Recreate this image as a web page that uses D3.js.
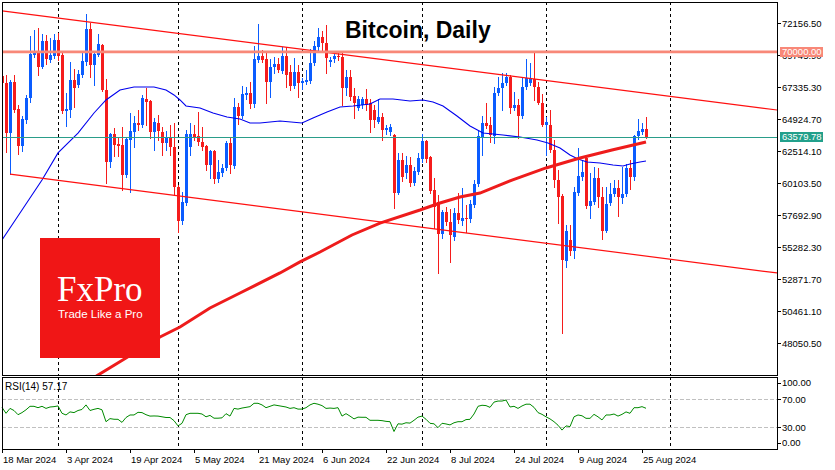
<!DOCTYPE html>
<html>
<head>
<meta charset="utf-8">
<title>Bitcoin, Daily</title>
<script src="https://cdn.jsdelivr.net/npm/d3@7"></script>
<style>
	body { margin: 0; background: #fff; }
	svg { display: block; font-family: "Liberation Sans", Arial, sans-serif; }
</style>
</head>
<body>
<script>

	// ---- data (daily BTC candles from 18 Mar 2024) ----
	var startDay = "2024-03-18";

	var openP = [68190,67660,63890,67740,65700,62910,64870,66530,69770,69920,
		68860,70820,69390,69690,70900,69770,65550,65630,67890,67510,
		68260,69240,71730,69020,69770,70520,67130,61710,63820,63060,
		62990,60730,63370,63970,64650,64500,66450,66300,63970,64650,
		63970,63140,63580,62840,59830,57260,58620,62840,63820,63670,
		63220,62910,61480,62540,60430,60880,61260,63140,61410,65850,
		65170,66760,66910,66080,69390,69690,69470,67740,68860,69090,
		68560,69690,68490,67430,68490,67660,67740,67810,69170,70370,
		71120,70670,69240,69470,69690,69620,67280,68110,66680,65780,
		66000,66450,66150,65630,64720,65100,64120,63970,63740,59370,
		61860,60880,61480,60130,60960,61930,63290,62080,59600,58700,
		56280,57940,57190,56060,57870,57260,57490,57410,58470,60050,
		63580,64650,64500,63670,66910,67280,67660,68110,65780,66000,
		65170,67360,67660,67960,67360,66150,64500,64500,62610,60350,
		59150,54250,55830,55000,59370,60580,62010,58390,58700,60500,
		59070,56510,58620,59300,59750,59000,59300,61260,60580,63670,
		63970,64190];

	var highP = [68410,68260,67890,68260,66000,65170,66760,71200,71650,71800,
		71350,71280,71050,71350,71430,69920,66910,69240,68710,68640,
		69920,72860,72180,70070,71350,70600,67960,63890,64270,63520,
		64340,63580,65400,65170,65630,66760,67280,66380,65020,65250,
		64340,64040,64500,64650,59980,59450,64120,64650,64500,65480,
		64340,62990,62610,62610,61860,61560,63290,63520,66530,66150,
		67430,67360,67740,70450,72100,70150,70070,69470,69620,69540,
		70370,70370,69020,69540,69020,68040,68640,70220,70820,71800,
		71580,72030,69620,69920,69920,69920,68640,68640,67280,66680,
		66600,67210,66450,66000,66450,65400,64500,64570,63820,62390,
		62390,62160,62080,61330,62390,63820,63370,62160,60500,59220,
		58090,58320,58170,58240,59370,59750,58470,58850,60350,64040,
		65170,66150,65100,67360,68110,68410,68410,68260,66980,66450,
		68110,69470,69170,70000,67740,66830,65100,65630,63370,61110,
		59300,56960,56960,59830,62760,61860,62160,60880,61330,61260,
		59830,59830,60130,60350,60350,61330,61560,61860,63740,64950,
		64650,65100];

	var lowP = [67430,62460,60800,65480,62310,62540,64650,66230,69620,68260,
		68790,69090,69240,69540,69390,65400,64420,65100,65850,67360,
		68110,69020,68110,67510,69690,67060,60130,61330,62160,62160,
		59600,60580,59450,62840,64120,64340,64500,63520,62610,63370,
		62240,62610,62240,59220,56440,57040,58470,62240,63370,62990,
		62610,61110,60500,60130,60200,60650,61110,60880,61260,64570,
		65020,66450,65780,65850,69240,69240,66150,66600,68410,68490,
		68410,67360,67130,67280,66600,67210,67580,67660,69020,70150,
		70000,68410,68940,69240,69390,66000,66760,66380,65020,65630,
		65780,65630,63970,64340,64650,63370,63820,63740,58240,59300,
		60280,60500,59900,59980,60800,61710,61710,59370,56740,53350,
		55980,56960,54180,55830,57110,56960,56440,57190,58320,59900,
		62240,64270,63220,63140,66760,65630,67510,65400,65630,63520,
		65020,67210,67510,66380,66080,64420,62240,62460,59830,57110,
		48830,53800,54700,54480,59220,60350,58240,57490,58540,58320,
		55910,56440,58470,59150,57640,58620,59150,59670,60350,63440,
		63820,63520];

	var closeP = [67660,63890,67740,65630,62910,64950,66530,69840,69920,68860,
		70820,69470,69770,70900,69690,65550,65700,67890,67280,68340,
		69320,71730,69020,69840,70600,67130,61710,63820,62990,62910,
		60730,63440,64040,64650,64500,66530,66230,63970,64720,64040,
		63140,63580,62840,59830,57260,58700,63820,63820,63580,63220,
		62840,61480,62540,60430,60960,61260,63140,61480,65850,65170,
		66830,66910,66080,69470,69690,69390,67740,68860,69090,68640,
		69690,68260,67430,68490,67660,67810,67890,69170,70450,71120,
		70670,69540,69390,69690,69620,67280,68110,66600,66150,66450,
		66450,66000,64870,64870,65100,64120,64270,64340,59370,61860,
		60580,61480,60130,61030,62010,63290,61930,59520,58320,56280,
		57940,57190,56210,57870,57340,57490,57410,58540,60050,63670,
		64650,64420,63740,66910,67280,67660,68110,65780,66000,65170,
		67360,68040,68040,67360,66150,64500,64720,62610,60350,59070,
		54330,56510,55000,59450,60650,60960,58390,58770,60500,59070,
		56510,58540,59300,59750,59070,59300,61260,60580,63670,64040,
		64190,63579.78];

	// RSI(14), one value per candle
	var rsiVals = [58.5,50,57,54,48,51,55,60,60,58,
		60,57,59,59.5,60.5,50,47.6,52,51,54,
		55.5,62,54,55.7,57,55,38,42.4,41.5,41.4,
		37,44,47.6,47.6,51.4,51,48,46,46.2,46,
		45,44,44,39.5,32,35.7,48,50,50,50,
		49,45,47,43,43,43.5,49.5,46,57,56,
		57.5,58.5,59.5,64.3,64.3,62,58,60,62,61,
		60,59,57,58,56,56,58,62,64.3,63,
		61,57,57.5,57,58,46,49.5,46,42,44.5,
		44.3,44.3,40,40,40,39.5,38.5,38,24,35,
		34.5,36.5,36,40,44.5,46,41.5,35.7,35,29.5,
		35.7,34.8,33.4,36.5,38,38,41,41.4,49,60,
		61.5,61,58.5,66,67.5,67.5,69,59,60,57,
		60.5,63,63,58.5,51,48.5,45,42,38,33,
		26,32,31,45,47.6,46.5,42.8,42.8,48.5,45,
		40.5,47.6,47.6,49,46,48.5,52,50,58,58,
		59.5,57.17];

	// moving averages read at day offsets (day 0 = 18 Mar)
	var ma50Day = [0,5,10,14,19,23,26,29.5,33,38,41,43,44.5,46,49.5,52.75,56.25,59.5,62,64.5,
		67,69.5,75,77.75,81.25,84.5,87.75,92,94.5,97.75,102,105.25,107.75,110.25,113.75,117,
		120.25,125.25,129.5,133.75,136.5,139.5,142,144,146.25,149.5,152.75,155.25,157,159.5,161];
	var ma50Val = [55830,58090,60350,62390,63890,65400,66380,67130,67360,67360,67130,66760,66380,65930,65780,65400,65100,64950,64650,64650,
		64720,64800,64650,65020,65480,65850,65930,66080,66450,66450,66300,66380,66230,65930,65170,64420,
		63890,63740,63590,63370,63140,62760,62240,61930,61710,61630,61480,61410,61560,61710,61780];

	var ma200Day = [18,24,31,39.5,44.5,52,59.5,69.5,74.5,79.5,87.5,94.5,104.5,109.5,114.5,119.5,127.5,136,144.5,152.5,161];
	var ma200Val = [44530,45660,46940,48530,49280,50710,51840,53350,54180,54930,56210,57110,58090,58620,59070,59370,60350,61260,62010,62610,63220];

	// channel trend lines (day, price) and horizontal levels
	var upperDay = [0, 194], upperVal = [73093, 65616];
	var lowerDay = [2, 194], lowerVal = [60800, 53340];
	var resistLevel = 70000;
	var lastPrice = 63579.78;

	var priceTicks = [72156.50, 69745.90, 67335.30, 64924.70, 62514.10, 60103.50, 57692.90, 55282.30, 52871.70, 50461.10, 48050.50];
	var rsiTicks = [100, 70, 30, 0];
	var rsiLevels = [70, 30];
	var dateTickDay = [0, 16, 32, 48, 64, 80, 96, 112, 128, 144, 160];

	// ---- layout ----
	var Settings = {
		width : 835,
		height : 470,
		left : 2, right : 777,
		top : 2, bottom : 375.5,
		rsiTop : 377, rsiBottom : 449,
		bull : "#0a5cff",
		bear : "#f51c1c",
		font : "\"Liberation Sans\", Arial, sans-serif"
	};

	var days = 194;
	var start = new Date(startDay + "T00:00:00Z");
	var dates = d3.range(days).map(function (i) { return d3.utcDay.offset(start, i); });
	var fmtDate = d3.utcFormat("%-d %b %Y");
	var fmtPrice = d3.format(".2f");

	var x = d3.scaleLinear().domain([0, 193.75]).range([Settings.left, Settings.right]);
	var y = d3.scaleLinear().domain([45626, 73761]).range([Settings.bottom, Settings.top]);
	var yRsi = d3.scaleLinear().domain([0, 100]).range([448.3, 378.3]);

	var svg = d3.select("body").append("svg")
		.attr("width", Settings.width)
		.attr("height", Settings.height);

	svg.append("defs").append("clipPath").attr("id", "mainClip")
		.append("rect")
		.attr("x", Settings.left).attr("y", Settings.top)
		.attr("width", Settings.right - Settings.left)
		.attr("height", Settings.bottom - Settings.top);

	// monthly dashed grid in both panels
	var monthDays = d3.range(days).filter(function (i) { return dates[i].getUTCDate() === 1; });
	var grid = svg.append("g")
		.attr("stroke", "#000")
		.attr("stroke-width", 1)
		.attr("stroke-dasharray", "3,3")
		.attr("shape-rendering", "crispEdges");
	monthDays.forEach(function (d) {
		var gx = Math.round(x(d)) + 0.5;
		grid.append("line").attr("x1", gx).attr("x2", gx)
			.attr("y1", Settings.top).attr("y2", Settings.bottom);
		grid.append("line").attr("x1", gx).attr("x2", gx)
			.attr("y1", Settings.rsiTop).attr("y2", Settings.rsiBottom);
	});

	var main = svg.append("g").attr("clip-path", "url(#mainClip)");

	// candles
	var candles = main.append("g").attr("shape-rendering", "crispEdges");
	closeP.forEach(function (c, i) {
		var o = openP[i];
		var col = c > o ? Settings.bull : Settings.bear;
		var cx = Math.round(x(i));
		candles.append("line")
			.attr("x1", cx + 0.5).attr("x2", cx + 0.5)
			.attr("y1", Math.round(y(highP[i]))).attr("y2", Math.round(y(lowP[i])) + 1)
			.attr("stroke", col);
		var top = Math.round(y(Math.max(o, c)));
		var bot = Math.round(y(Math.min(o, c)));
		candles.append("rect")
			.attr("x", cx - 1).attr("y", top)
			.attr("width", 3).attr("height", Math.max(1, bot - top))
			.attr("fill", col);
	});

	// moving averages
	var maLine = d3.line()
		.x(function (d) { return x(d[0]); })
		.y(function (d) { return y(d[1]); });

	main.append("path")
		.attr("d", maLine(d3.zip(ma50Day, ma50Val)))
		.attr("fill", "none").attr("stroke", "#0000ee").attr("stroke-width", 1.1);

	main.append("path")
		.attr("d", maLine(d3.zip(ma200Day, ma200Val)))
		.attr("fill", "none").attr("stroke", "#ee1c1c").attr("stroke-width", 3);

	// channel
	[[upperDay, upperVal], [lowerDay, lowerVal]].forEach(function (t) {
		main.append("path")
			.attr("d", maLine(d3.zip(t[0], t[1])))
			.attr("fill", "none").attr("stroke", "#ff1010").attr("stroke-width", 1.2);
	});

	// horizontal levels
	main.append("line")
		.attr("x1", Settings.left).attr("x2", Settings.right)
		.attr("y1", y(resistLevel)).attr("y2", y(resistLevel))
		.attr("stroke", "#f88878").attr("stroke-width", 2.7);
	main.append("line")
		.attr("x1", Settings.left).attr("x2", Settings.right)
		.attr("y1", Math.round(y(lastPrice)) + 0.5).attr("y2", Math.round(y(lastPrice)) + 0.5)
		.attr("stroke", "#2a9d8a").attr("stroke-width", 1);

	// title
	svg.append("text")
		.attr("x", 345).attr("y", 38)
		.attr("font-size", 23).attr("font-weight", "bold")
		.attr("fill", "#000")
		.text("Bitcoin, Daily");

	// FxPro logo block
	var logo = svg.append("g");
	logo.append("rect")
		.attr("x", 40).attr("y", 238).attr("width", 120).attr("height", 120)
		.attr("fill", "#f01616");
	logo.append("text")
		.attr("x", 57).attr("y", 301)
		.attr("font-family", "\"Liberation Serif\", \"Times New Roman\", serif")
		.attr("font-size", 35).attr("fill", "#fff")
		.text("FxPro");
	logo.append("text")
		.attr("x", 58).attr("y", 317.5)
		.attr("font-size", 11.5).attr("fill", "#fff")
		.text("Trade Like a Pro");

	// RSI panel
	var rsiG = svg.append("g");
	rsiLevels.forEach(function (v) {
		rsiG.append("line")
			.attr("x1", Settings.left).attr("x2", Settings.right)
			.attr("y1", Math.round(yRsi(v)) + 0.5).attr("y2", Math.round(yRsi(v)) + 0.5)
			.attr("stroke", "#c0c0c0").attr("stroke-dasharray", "4,2")
			.attr("shape-rendering", "crispEdges");
	});
	var rsiLine = d3.line()
		.x(function (d, i) { return x(i); })
		.y(function (d) { return yRsi(d); });
	rsiG.append("path")
		.attr("d", rsiLine(rsiVals))
		.attr("fill", "none").attr("stroke", "#008a00").attr("stroke-width", 1);
	rsiG.append("text")
		.attr("x", 5).attr("y", 390)
		.attr("font-size", 10).attr("fill", "#000")
		.text("RSI(14) " + d3.format(".2f")(rsiVals[rsiVals.length - 1]));

	// panel frames
	var frames = svg.append("g")
		.attr("fill", "none").attr("stroke", "#000").attr("shape-rendering", "crispEdges");
	frames.append("rect")
		.attr("x", Settings.left + 0.5).attr("y", Settings.top + 0.5)
		.attr("width", Settings.right - Settings.left).attr("height", Settings.bottom - Settings.top - 0.5);
	frames.append("rect")
		.attr("x", Settings.left + 0.5).attr("y", Settings.rsiTop + 0.5)
		.attr("width", Settings.right - Settings.left).attr("height", Settings.rsiBottom - Settings.rsiTop);

	// price axis
	var axisG = svg.append("g").attr("font-size", 9.5).attr("fill", "#000");
	priceTicks.forEach(function (p) {
		var ty = y(p);
		axisG.append("line")
			.attr("x1", Settings.right).attr("x2", Settings.right + 4)
			.attr("y1", Math.round(ty) + 0.5).attr("y2", Math.round(ty) + 0.5)
			.attr("stroke", "#000").attr("shape-rendering", "crispEdges");
		axisG.append("text")
			.attr("x", 782).attr("y", ty).attr("dy", "0.35em")
			.text(fmtPrice(p));
	});

	// level labels on the price axis
	[[resistLevel, "#f88878"], [lastPrice, "#21a08b"]].forEach(function (l) {
		var ly = y(l[0]);
		axisG.append("rect")
			.attr("x", 780).attr("y", Math.round(ly) - 5)
			.attr("width", 43).attr("height", 10)
			.attr("fill", l[1]);
		axisG.append("text")
			.attr("x", 782).attr("y", ly).attr("dy", "0.35em")
			.attr("fill", "#fff")
			.text(fmtPrice(l[0]));
	});

	// RSI axis
	rsiTicks.forEach(function (v) {
		var ty = Math.max(383, Math.min(443, yRsi(v)));
		axisG.append("line")
			.attr("x1", Settings.right).attr("x2", Settings.right + 4)
			.attr("y1", Math.round(ty) + 0.5).attr("y2", Math.round(ty) + 0.5)
			.attr("stroke", "#000").attr("shape-rendering", "crispEdges");
		axisG.append("text")
			.attr("x", 782).attr("y", ty).attr("dy", "0.35em")
			.text(fmtPrice(v));
	});

	// date axis
	dateTickDay.forEach(function (d) {
		var tx = Math.round(x(d)) + 0.5;
		axisG.append("line")
			.attr("x1", tx).attr("x2", tx)
			.attr("y1", Settings.rsiBottom).attr("y2", Settings.rsiBottom + 4)
			.attr("stroke", "#000").attr("shape-rendering", "crispEdges");
		axisG.append("text")
			.attr("x", tx + 0.5).attr("y", 463)
			.text(fmtDate(dates[d]));
	});

</script>
</body>
</html>
